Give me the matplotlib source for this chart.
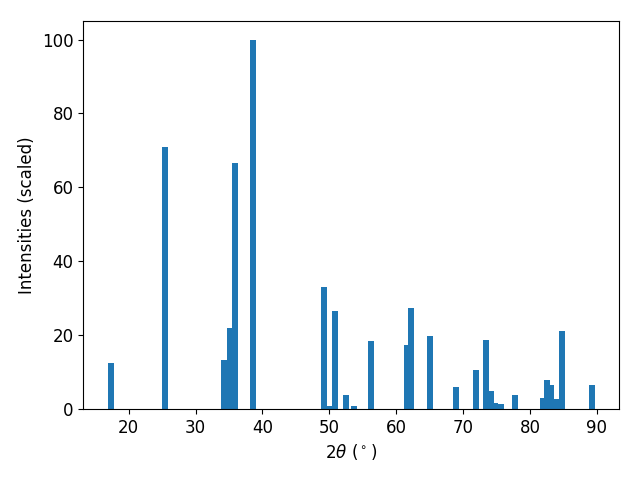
import matplotlib.pyplot as plt

# peak positions (2theta, degrees) and scaled intensities
two_theta = [17.3, 25.5, 34.2, 35.1, 35.9, 38.6,
             49.2, 49.9, 50.9, 52.5, 53.7, 56.2,
             61.6, 62.2, 65.1, 68.9, 72.0, 73.4,
             74.1, 74.7, 75.7, 77.8, 82.0, 82.5,
             83.1, 84.0, 84.8, 89.2]
intensity = [12.5, 71.0, 13.3, 22.0, 66.7, 100.0,
             33.0, 0.8, 26.6, 3.8, 0.8, 18.4,
             17.3, 27.4, 19.8, 5.9, 10.6, 18.7,
             4.9, 1.6, 1.4, 3.8, 3.0, 7.9,
             6.5, 2.7, 21.1, 6.5]

plt.rcParams["font.size"] = 12

fig, ax = plt.subplots(figsize=(6.4, 4.8), dpi=100)
ax.bar(two_theta, intensity, width=0.9, color="#1f77b4")
ax.set_xlabel(r"$2\theta$ ($^\circ$)")
ax.set_ylabel("Intensities (scaled)")

# axes box placed to match the reference
fig.subplots_adjust(left=0.13, right=0.967, top=0.956, bottom=0.148)
fig.savefig("out.png", dpi=100)
